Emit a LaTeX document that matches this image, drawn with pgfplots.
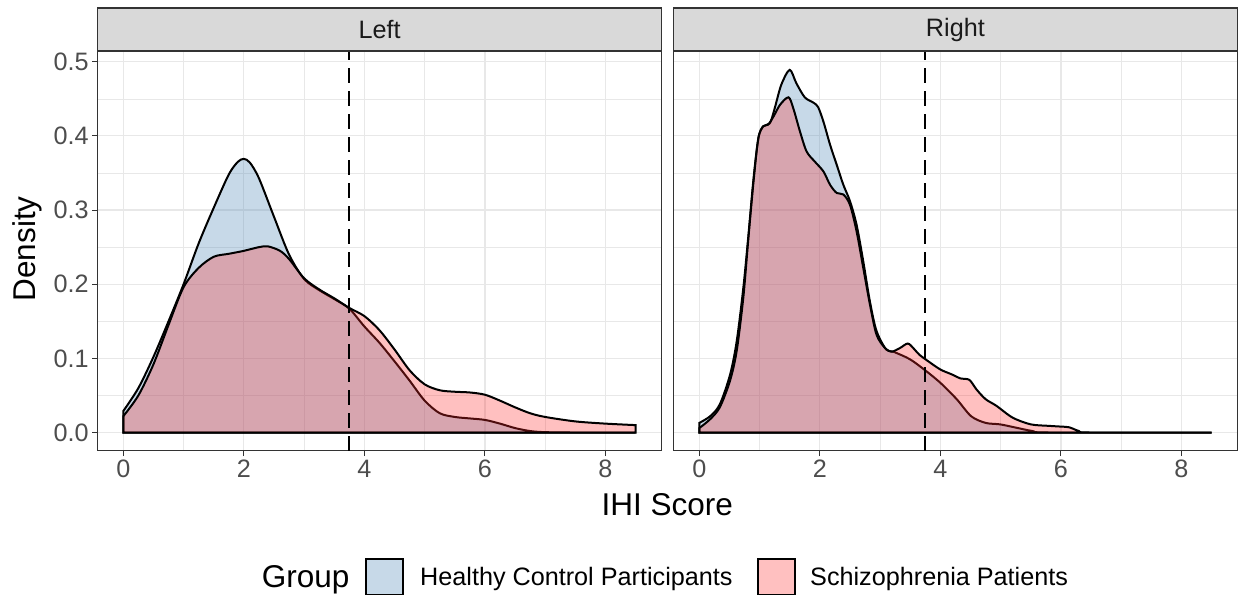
\documentclass[border=0pt]{standalone}
\usepackage{fontspec}
\setmainfont{Liberation Sans}
\usepackage{pgfplots}
\pgfplotsset{compat=1.18}
\definecolor{hcblue}{RGB}{70,130,180}
\definecolor{szred}{RGB}{255,45,45}
\definecolor{gridc}{RGB}{232,232,232}
\definecolor{grey20}{RGB}{51,51,51}
\definecolor{grey30}{RGB}{77,77,77}
\definecolor{grey10}{RGB}{26,26,26}
\definecolor{stripc}{RGB}{217,217,217}
\pgfplotsset{panel/.style={
  scale only axis, width=563.5pt, height=399.7pt,
  xmin=-0.425, xmax=8.925, ymin=-0.0245, ymax=0.5145,
  xtick={0,2,4,6,8}, minor xtick={1,3,5,7},
  ytick={0,0.1,0.2,0.3,0.4,0.5}, minor ytick={0.05,0.15,0.25,0.35,0.45},
  grid=both,
  major grid style={gridc, line width=1.2pt},
  minor grid style={gridc, line width=0.6pt},
  axis line style={grey20, line width=1.1pt},
  tick align=outside, major tick length=5.5pt, minor tick length=0pt,
  tick style={grey20, line width=1.1pt},
  xtick pos=bottom, ytick pos=left,
  /pgf/number format/assume math mode=true,
  tick label style={font=\fontsize{25.2}{30}\selectfont, text=grey30},
  xticklabels={0,2,4,6,8},
  yticklabels={0.0,0.1,0.2,0.3,0.4,0.5},
  clip=true,
},
hc/.style={draw=black, line width=2pt, fill=hcblue, fill opacity=0.3, smooth},
sz/.style={draw=black, line width=2pt, fill=szred, fill opacity=0.3, smooth},
vl/.style={black, line width=2pt, dash pattern=on 15pt off 8pt}
}
\begin{document}
\begin{tikzpicture}
\useasboundingbox (0pt,0pt) rectangle (1239pt,596pt);
% Left panel
\begin{axis}[panel, at={(97.7pt,145.3pt)}, anchor=south west]
\addplot[hc] coordinates {(0,0.029) (0.25,0.060) (0.5,0.102) (0.75,0.150) (1.0,0.200) (1.25,0.255) (1.5,0.303) (1.75,0.348) (1.9,0.365) (2.0,0.369) (2.1,0.364) (2.25,0.343) (2.5,0.291) (2.75,0.240) (3.0,0.207) (3.25,0.192) (3.5,0.180) (3.75,0.167) (4.0,0.143) (4.25,0.121) (4.5,0.096) (4.75,0.070) (5.0,0.043) (5.25,0.026) (5.5,0.021) (5.75,0.019) (6.0,0.017) (6.25,0.012) (6.5,0.006) (6.75,0.002) (7.0,0.0005) (7.5,0) (8.5,0)} \closedcycle;
\addplot[sz] coordinates {(0,0.022) (0.25,0.050) (0.5,0.092) (0.75,0.145) (1.0,0.196) (1.25,0.222) (1.5,0.237) (1.75,0.241) (2.0,0.245) (2.25,0.250) (2.4,0.251) (2.6,0.245) (2.75,0.234) (3.0,0.208) (3.25,0.193) (3.5,0.181) (3.75,0.168) (4.0,0.157) (4.25,0.138) (4.5,0.112) (4.75,0.084) (5.0,0.065) (5.25,0.057) (5.5,0.055) (5.75,0.054) (6.0,0.051) (6.25,0.043) (6.5,0.034) (6.75,0.026) (7.0,0.021) (7.5,0.015) (8.0,0.012) (8.5,0.010)} \closedcycle;
\addplot[vl] coordinates {(3.75,-0.0245) (3.75,0.5145)};
\end{axis}
% Right panel
\begin{axis}[panel, at={(673.7pt,145.3pt)}, anchor=south west, yticklabels={}, y tick style={draw=none}]
\addplot[hc] coordinates {(0,0.013) (0.18,0.022) (0.34,0.038) (0.51,0.078) (0.62,0.123) (0.73,0.195) (0.81,0.262) (0.90,0.343) (0.98,0.397) (1.06,0.413) (1.17,0.417) (1.25,0.437) (1.36,0.469) (1.50,0.489) (1.61,0.471) (1.75,0.452) (1.89,0.445) (1.97,0.439) (2.06,0.419) (2.17,0.388) (2.28,0.361) (2.39,0.334) (2.50,0.312) (2.61,0.280) (2.72,0.231) (2.83,0.177) (2.94,0.137) (3.10,0.112) (3.22,0.109) (3.49,0.099) (3.73,0.085) (4.0,0.067) (4.27,0.045) (4.51,0.022) (4.75,0.013) (4.99,0.011) (5.23,0.007) (5.53,0.002) (5.83,0) (8.5,0)} \closedcycle;
\addplot[sz] coordinates {(0,0.006) (0.18,0.018) (0.34,0.034) (0.51,0.070) (0.62,0.110) (0.73,0.182) (0.81,0.258) (0.90,0.339) (0.98,0.397) (1.06,0.413) (1.14,0.415) (1.23,0.426) (1.34,0.442) (1.48,0.452) (1.56,0.437) (1.67,0.406) (1.78,0.379) (1.92,0.365) (2.06,0.352) (2.17,0.334) (2.28,0.323) (2.39,0.321) (2.50,0.307) (2.61,0.271) (2.72,0.222) (2.83,0.173) (2.94,0.132) (3.08,0.114) (3.19,0.109) (3.33,0.114) (3.46,0.120) (3.56,0.113) (3.65,0.105) (3.80,0.096) (4.0,0.085) (4.20,0.078) (4.33,0.073) (4.48,0.071) (4.60,0.058) (4.75,0.045) (4.93,0.036) (5.20,0.020) (5.50,0.011) (5.80,0.009) (6.00,0.008) (6.14,0.007) (6.30,0.002) (6.5,0) (8.5,0)} \closedcycle;
\addplot[vl] coordinates {(3.75,-0.0245) (3.75,0.5145)};
\end{axis}
% strips
\draw[grey20, line width=1.1pt, fill=stripc] (97.7pt,545pt) rectangle (661.7pt,588pt);
\draw[grey20, line width=1.1pt, fill=stripc] (673.7pt,545pt) rectangle (1237.2pt,588pt);
\node[text=grey10, font=\fontsize{25.2}{30}\selectfont] at (379.7pt,566.5pt) {Left};
\node[text=grey10, font=\fontsize{25.2}{30}\selectfont] at (955.4pt,566.5pt) {Right};
% axis titles
\node[anchor=base, font=\fontsize{31.5}{36}\selectfont] at (667.3pt,80.5pt) {IHI Score};
\node[anchor=base, rotate=90, font=\fontsize{31.5}{36}\selectfont] at (35.5pt,347pt) {Density};
% legend
\node[anchor=base west, inner sep=0pt, font=\fontsize{31.5}{36}\selectfont] at (261.7pt,8.7pt) {Group};
\draw[black, line width=1.1pt, fill=hcblue, fill opacity=0.3] (366pt,1.5pt) rectangle (403pt,37pt);
\node[anchor=base west, inner sep=0pt, font=\fontsize{25.2}{30}\selectfont] at (420pt,10pt) {Healthy Control Participants};
\draw[black, line width=1.1pt, fill=szred, fill opacity=0.3] (758pt,1.5pt) rectangle (795pt,37pt);
\node[anchor=base west, inner sep=0pt, font=\fontsize{25.2}{30}\selectfont] at (810pt,10pt) {Schizophrenia Patients};
\end{tikzpicture}
\end{document}
